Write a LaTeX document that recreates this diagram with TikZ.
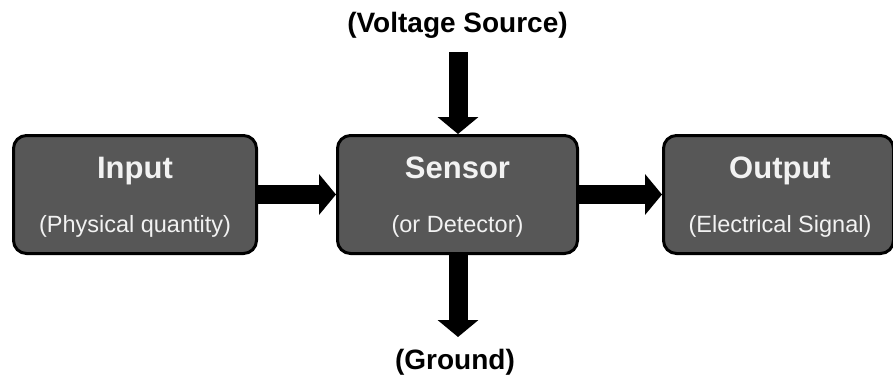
\documentclass[tikz,border=0pt]{standalone}
\usepackage{fontspec}
\setmainfont{Liberation Sans}
\usetikzlibrary{arrows.meta}
\definecolor{boxgrey}{HTML}{575757}
\definecolor{boxtext}{HTML}{F2F2F2}

\begin{document}
\begin{tikzpicture}[x=1pt, y=-1pt,
	box/.style={draw=black, line width=3pt, fill=boxgrey, rounded corners=13pt, minimum height=118pt, inner sep=0pt},
	ttl/.style={text=boxtext, font=\bfseries\fontsize{31}{36}\selectfont, anchor=base},
	sub/.style={text=boxtext, font=\fontsize{23.5}{28}\selectfont, anchor=base},
	lbl/.style={font=\bfseries\fontsize{28}{33}\selectfont, anchor=base},
	blk/.style={line width=19pt, -{Triangle[width=40pt, length=17pt]}}]
	\useasboundingbox (0,0) rectangle (893,376);
	% blocks
	\node[box, minimum width=243pt] (inp) at (135,194.5) {};
	\node[box, minimum width=240pt] (sen) at (457.5,194.5) {};
	\node[box, minimum width=230pt] (out) at (778.5,194.5) {};
	\node[ttl] (inpT) at (135,178) {Input};
	\node[sub] (inpS) at (135,232) {(Physical quantity)};
	\node[ttl] (senT) at (457.5,178) {Sensor};
	\node[sub] (senS) at (457.5,232) {(or Detector)};
	\node[ttl] (outT) at (780,178) {Output};
	\node[sub] (outS) at (780,232) {(Electrical Signal)};
	% supply and ground
	\node[lbl] (src) at (457.5,32) {(Voltage Source)};
	\node[lbl] (gnd) at (455,369) {(Ground)};
	\coordinate (srcEnd) at (458,52);
	\coordinate (gndEnd) at (458,337);
	% arrows
	\draw[blk] (inp.east) -- (sen.west);
	\draw[blk] (sen.east) -- (out.west);
	\draw[blk] (srcEnd) -- (srcEnd |- sen.north);
	\draw[blk] (gndEnd |- sen.south) -- (gndEnd);
\end{tikzpicture}
\end{document}
